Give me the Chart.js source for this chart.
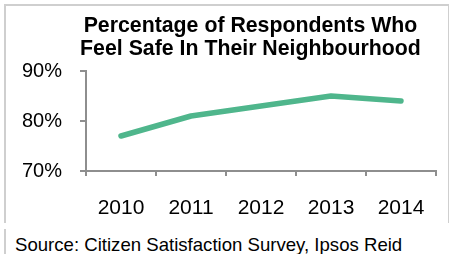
<!DOCTYPE html>
<html>
<head>
<meta charset="utf-8">
<script src="https://cdn.jsdelivr.net/npm/chart.js@4/dist/chart.umd.min.js"></script>
<style>
  html, body { margin: 0; padding: 0; background: #fff; width: 449px; height: 254px; overflow: hidden; }
  #box { position: absolute; left: 4px; top: 4px; width: 442px; height: 217px; border: 2px solid #cfcfcf; border-bottom: none; }
  #srcbox { position: absolute; left: 4px; top: 229px; width: 300px; height: 40px; border-left: 2px solid #cfcfcf; }
  #src { position: absolute; left: 15px; top: 235px; font-family: "Liberation Sans", Arial, sans-serif; font-size: 18.6px; line-height: 20px; color: #000; white-space: nowrap; }
  #title { position: absolute; left: 51px; top: 13.8px; width: 399px; text-align: center; font-family: "Liberation Sans", Arial, sans-serif; font-weight: bold; font-size: 21.3px; line-height: 22.7px; color: #000; white-space: nowrap; z-index: 2; }
  #wrap { position: absolute; left: 0; top: 0; width: 449px; height: 254px; z-index: 1; }
</style>
</head>
<body>
<div id="box"></div>
<div id="srcbox"></div>
<div id="src">Source: Citizen Satisfaction Survey, Ipsos Reid</div>
<div id="wrap"><canvas id="c" width="449" height="254"></canvas></div>
<div id="title"></div>
<script>
const categories = ["2010", "2011", "2012", "2013", "2014"];
const safeValues = [77, 81, 83, 85, 84];
const yTicks = [70, 80, 90];
const titleLines = ["Percentage of Respondents Who", "Feel Safe In Their Neighbourhood"];

const titleEl = document.getElementById('title');
titleLines.forEach(t => { const d = document.createElement('div'); d.textContent = t; titleEl.appendChild(d); });

const FONT = '"Liberation Sans", Arial, sans-serif';
const AXIS = '#8e8e8e';

new Chart(document.getElementById('c'), {
  type: 'line',
  data: {
    labels: categories,
    datasets: [{
      data: safeValues,
      borderColor: '#4fb68c',
      borderWidth: 5.5,
      borderCapStyle: 'round',
      borderJoinStyle: 'round',
      pointRadius: 0,
      tension: 0,
      fill: false
    }]
  },
  options: {
    responsive: false,
    animation: false,
    events: [],
    layout: { padding: { left: 21, right: 13, top: 71, bottom: 0 } },
    plugins: {
      legend: { display: false },
      tooltip: { enabled: false },
      title: { display: false }
    },
    scales: {
      x: {
        offset: true,
        afterFit: (s) => { s.height = 83; },
        grid: { offset: true, drawOnChartArea: false, drawTicks: true, tickLength: 5, color: AXIS, lineWidth: 2 },
        border: { display: true, color: AXIS, width: 2 },
        ticks: { color: '#000', font: { family: FONT, size: 21 }, padding: 20, maxRotation: 0 }
      },
      y: {
        min: 70,
        max: 90,
        afterBuildTicks: (s) => { s.ticks = yTicks.map(v => ({ value: v })); },
        afterFit: (s) => { s.width = 65; },
        grid: { drawOnChartArea: false, drawTicks: true, tickLength: 6, color: AXIS, lineWidth: 2 },
        border: { display: true, color: AXIS, width: 2 },
        ticks: { color: '#000', font: { family: FONT, size: 20 }, padding: 18, callback: (v) => v + '%' }
      }
    }
  }
});
</script>
</body>
</html>
